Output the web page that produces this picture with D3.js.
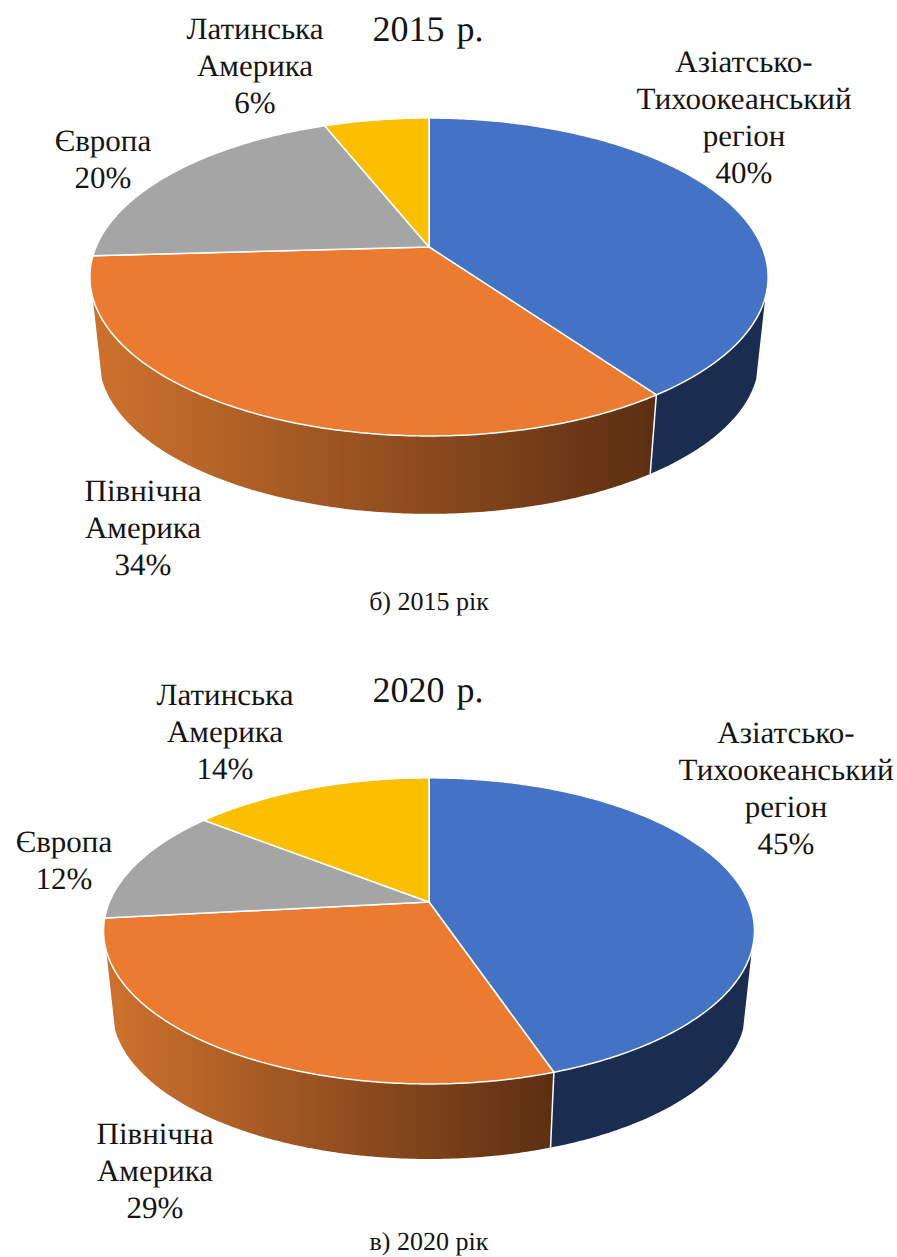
<!DOCTYPE html>
<html>

<head>
    <meta charset="UTF-8">
    <style>
        html, body {
            margin: 0;
            background: #fff;
        }

        text {
            font-family: 'Liberation Serif', 'Times New Roman', serif;
            fill: #141414;
            text-anchor: middle;
            text-rendering: geometricPrecision;
        }

        .label { font-size: 31px; }
        .title { font-size: 36px; word-spacing: 3px; }
        .caption { font-size: 26px; }
    </style>
    <script src="https://d3js.org/d3.v7.min.js"></script>
</head>

<body>
    <svg id="chart" width="897" height="1257"></svg>
    <script>
        var categories = ["Азіатсько-|Тихоокеанський|регіон", "Північна|Америка", "Європа", "Латинська|Америка"];
        // shares, labels show them rounded
        var values2015 = [40.2, 33.9, 19.9, 6.0];
        var values2020 = [44.8, 28.5, 12.3, 14.4];
        var titles = ["2015 р.", "2020 р."];
        var captions = ["б) 2015 рік", "в) 2020 рік"];

        var topColors = ["#4472c4", "#ea7b30", "#a5a5a5", "#fbbf00"];
        var sideColors = ["#1a2d50", "url(#orangeSide0)", "#5f5f5f", "#8f6d00"];

        // the two pies only differ in size and where they sit
        var layouts = [
            {
                values: values2015, title: titles[0], caption: captions[0],
                cx: 429, cy: 247, rx: 333, ry: 153.3, dy: 83,
                titleY: 41, captionY: 610,
                labels: [[744, 72], [143, 501], [103, 151], [255, 39]]
            },
            {
                values: values2020, title: titles[1], caption: captions[1],
                cx: 429, cy: 902, rx: 319.6, ry: 147.6, dy: 80,
                titleY: 702, captionY: 1250,
                labels: [[786, 743], [155, 1144], [64, 852], [225, 705]]
            }
        ];

        var tilt = -0.1887;      // perspective, near edge looks bigger
        var shrink = 0.973;      // lower rim is a bit smaller than the top
        var lineH = 37;
        var wallFrom = 108 * Math.PI / 180;
        var wallTo = 252 * Math.PI / 180;

        var svg = d3.select("#chart");
        var defs = svg.append("defs");
        var pie = d3.pie().sort(null).startAngle(0).endAngle(2 * Math.PI);
        var line = d3.line();

        function project(l, a, lower) {
            var u = Math.sin(a), v = -Math.cos(a);
            var w = 1 + tilt * v;
            var s = lower ? shrink : 1;
            return [
                l.cx + s * l.rx * u / w,
                l.cy + (lower ? l.dy : 0) + s * l.ry * v / w
            ];
        }

        function arcPoints(l, a0, a1, lower) {
            var n = Math.max(2, Math.ceil((a1 - a0) * 90));
            return d3.range(n + 1).map(function (i) {
                return project(l, a0 + (a1 - a0) * i / n, lower);
            });
        }

        layouts.forEach(function (l, idx) {
            var arcs = pie(l.values);
            var g = svg.append("g");

            var gradId = "orangeSide" + idx;
            var grad = defs.append("linearGradient")
                .attr("id", gradId)
                .attr("gradientUnits", "userSpaceOnUse")
                .attr("x1", project(l, wallTo, true)[0]).attr("x2", project(l, arcs[1].startAngle, true)[0])
                .attr("y1", 0).attr("y2", 0);
            grad.append("stop").attr("offset", 0).attr("stop-color", "#cc712d");
            grad.append("stop").attr("offset", 1).attr("stop-color", "#5d2f12");

            // side walls
            arcs.forEach(function (d, i) {
                var a0 = Math.max(d.startAngle, wallFrom);
                var a1 = Math.min(d.endAngle, wallTo);
                if (a1 <= a0) return;
                var pts = arcPoints(l, a0, a1, false).concat(arcPoints(l, a0, a1, true).reverse());
                g.append("path")
                    .attr("d", line(pts) + "Z")
                    .attr("fill", i === 1 ? "url(#" + gradId + ")" : sideColors[i]);
            });

            // white seams between walls
            arcs.forEach(function (d) {
                if (d.startAngle > wallFrom && d.startAngle < wallTo) {
                    g.append("path")
                        .attr("d", line([project(l, d.startAngle, false), project(l, d.startAngle, true)]))
                        .attr("stroke", "#fff").attr("stroke-width", 1.5).attr("fill", "none");
                }
            });

            // top face
            arcs.forEach(function (d, i) {
                var pts = [[l.cx, l.cy]].concat(arcPoints(l, d.startAngle, d.endAngle, false));
                g.append("path")
                    .attr("d", line(pts) + "Z")
                    .attr("fill", topColors[i])
                    .attr("stroke", "#fff")
                    .attr("stroke-width", 1.5)
                    .attr("stroke-linejoin", "round");
            });

            // labels
            categories.forEach(function (c, i) {
                var lines = c.split("|").concat([Math.round(l.values[i]) + "%"]);
                var t = g.append("text").attr("class", "label");
                lines.forEach(function (s, k) {
                    t.append("tspan")
                        .attr("x", l.labels[i][0])
                        .attr("y", l.labels[i][1] + k * lineH)
                        .text(s);
                });
            });

            g.append("text").attr("class", "title")
                .attr("x", 428).attr("y", l.titleY).text(l.title);
            g.append("text").attr("class", "caption")
                .attr("x", 429).attr("y", l.captionY).text(l.caption);
        });
    </script>
</body>

</html>
